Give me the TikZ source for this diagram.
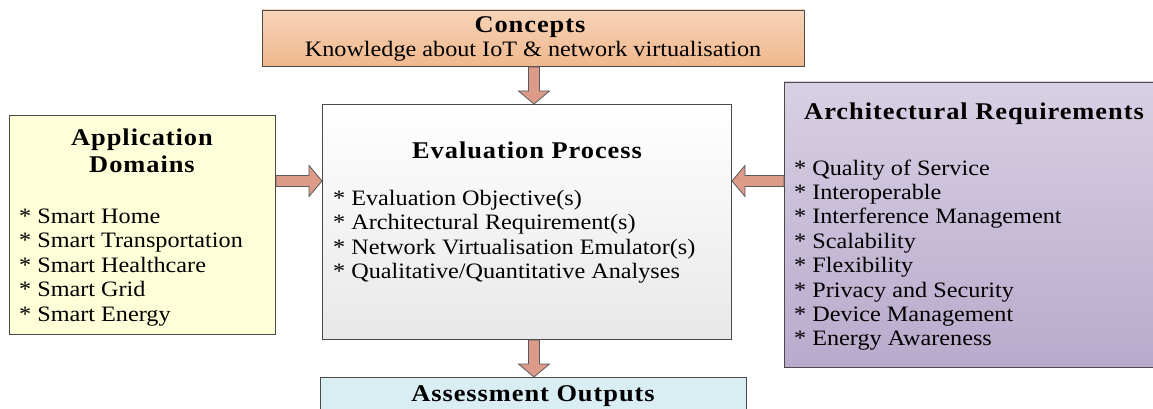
\documentclass[tikz,border=0pt]{standalone}
\usepackage{fontspec}
\setmainfont{Liberation Serif}[FakeStretch=1.1]
\newfontfamily\ttlfont{Liberation Serif}[FakeStretch=1.1,LetterSpace=4,UprightFont=*-Bold]
\usetikzlibrary{calc}
\definecolor{arrfill}{HTML}{DC9A88}
\definecolor{arrdraw}{HTML}{5A5A5A}
\definecolor{boxdraw}{HTML}{4A4A4A}
\newcommand\blockarr[2]{%
  \path[arrowbody] let \p1=(#1),\p2=(#2),\n1={atan2(\y2-\y1,\x2-\x1)},\n2={veclen(\x2-\x1,\y2-\y1)} in
  [shift={(\p1)},rotate=\n1] (0,-5.5) -- (\n2-13,-5.5) -- (\n2-13,-15.5) -- (\n2,0) -- (\n2-13,15.5) -- (\n2-13,5.5) -- (0,5.5) -- cycle;}
\begin{document}
\begin{tikzpicture}[x=1pt,y=1pt,
  box/.style={draw=boxdraw,line width=1pt,inner sep=0pt},
  arrowbody/.style={fill=arrfill,draw=arrdraw,line width=0.8pt,line join=miter},
  ttl/.style={font=\fontsize{24}{27}\ttlfont,inner sep=0pt,anchor=base},
  itm/.style={font=\fontsize{22}{25}\selectfont,inner sep=0pt,anchor=base west}]
\useasboundingbox (0,0) rectangle (1153,-409);
% boxes
\path[top color={rgb,255:red,248;green,212;blue,184},bottom color={rgb,255:red,240;green,184;blue,142}]
  (262,-10) rectangle (804,-66);
\node[box,minimum width=542,minimum height=56,anchor=north west] (concepts) at (262,-10) {};

\node[box,anchor=north west,minimum width=266,minimum height=219,fill={rgb,255:red,254;green,254;blue,216}] (app) at (9,-115) {};

\path[top color=white,bottom color={rgb,255:red,232;green,232;blue,232}] (322,-104) rectangle (731,-339);
\node[box,anchor=north west,minimum width=409,minimum height=235] (eval) at (322,-104) {};

\path[top color={rgb,255:red,216;green,208;blue,228},bottom color={rgb,255:red,184;green,170;blue,204}] (784,-82) rectangle (1160,-367);
\node[box,anchor=north west,minimum width=376,minimum height=285] (arch) at (784,-82) {};

\node[box,anchor=north west,minimum width=426,minimum height=40,fill={rgb,255:red,216;green,238;blue,242}] (assess) at (320,-377) {};

% texts
\node[ttl] (ct) at (530,-33) {Concepts};
\node[itm,anchor=base] (ck) at (533,-57) {Knowledge about IoT \& network virtualisation};

\node[ttl] (at1) at (142,-145) {Application};
\node[ttl] (at2) at (142,-172) {Domains};
\foreach \t [count=\i] in {Smart Home,Smart Transportation,Smart Healthcare,Smart Grid,Smart Energy}
  \node[itm] (al\i) at (19,-198.5-24.5*\i) {* \t};

\node[ttl] (et) at (527,-158) {Evaluation Process};
\foreach \t [count=\i] in {Evaluation Objective(s),Architectural Requirement(s),Network Virtualisation Emulator(s),Qualitative/Quantitative Analyses}
  \node[itm] (el\i) at (333,-180.5-24.5*\i) {* \t};

\node[ttl] (rt) at (974,-120) {Architectural Requirements};
\foreach \t [count=\i] in {Quality of Service,Interoperable,Interference Management,Scalability,Flexibility,Privacy and Security,Device Management,Energy Awareness}
  \node[itm] (rl\i) at (794,-150.6-24.4*\i) {* \t};

\node[ttl] (aot) at (533,-401) {Assessment Outputs};

% arrows
\coordinate (c1) at ($(concepts.south west)!0.5!(concepts.south east)+(0.5,0)$);
\blockarr{c1}{c1 |- eval.north}
\coordinate (a1) at (app.east |- 0,-181);
\blockarr{a1}{a1 -| eval.west}
\coordinate (r1) at (arch.west |- 0,-181);
\blockarr{r1}{r1 -| eval.east}
\coordinate (e1) at (c1 |- eval.south);
\blockarr{e1}{e1 |- assess.north}
\end{tikzpicture}
\end{document}
